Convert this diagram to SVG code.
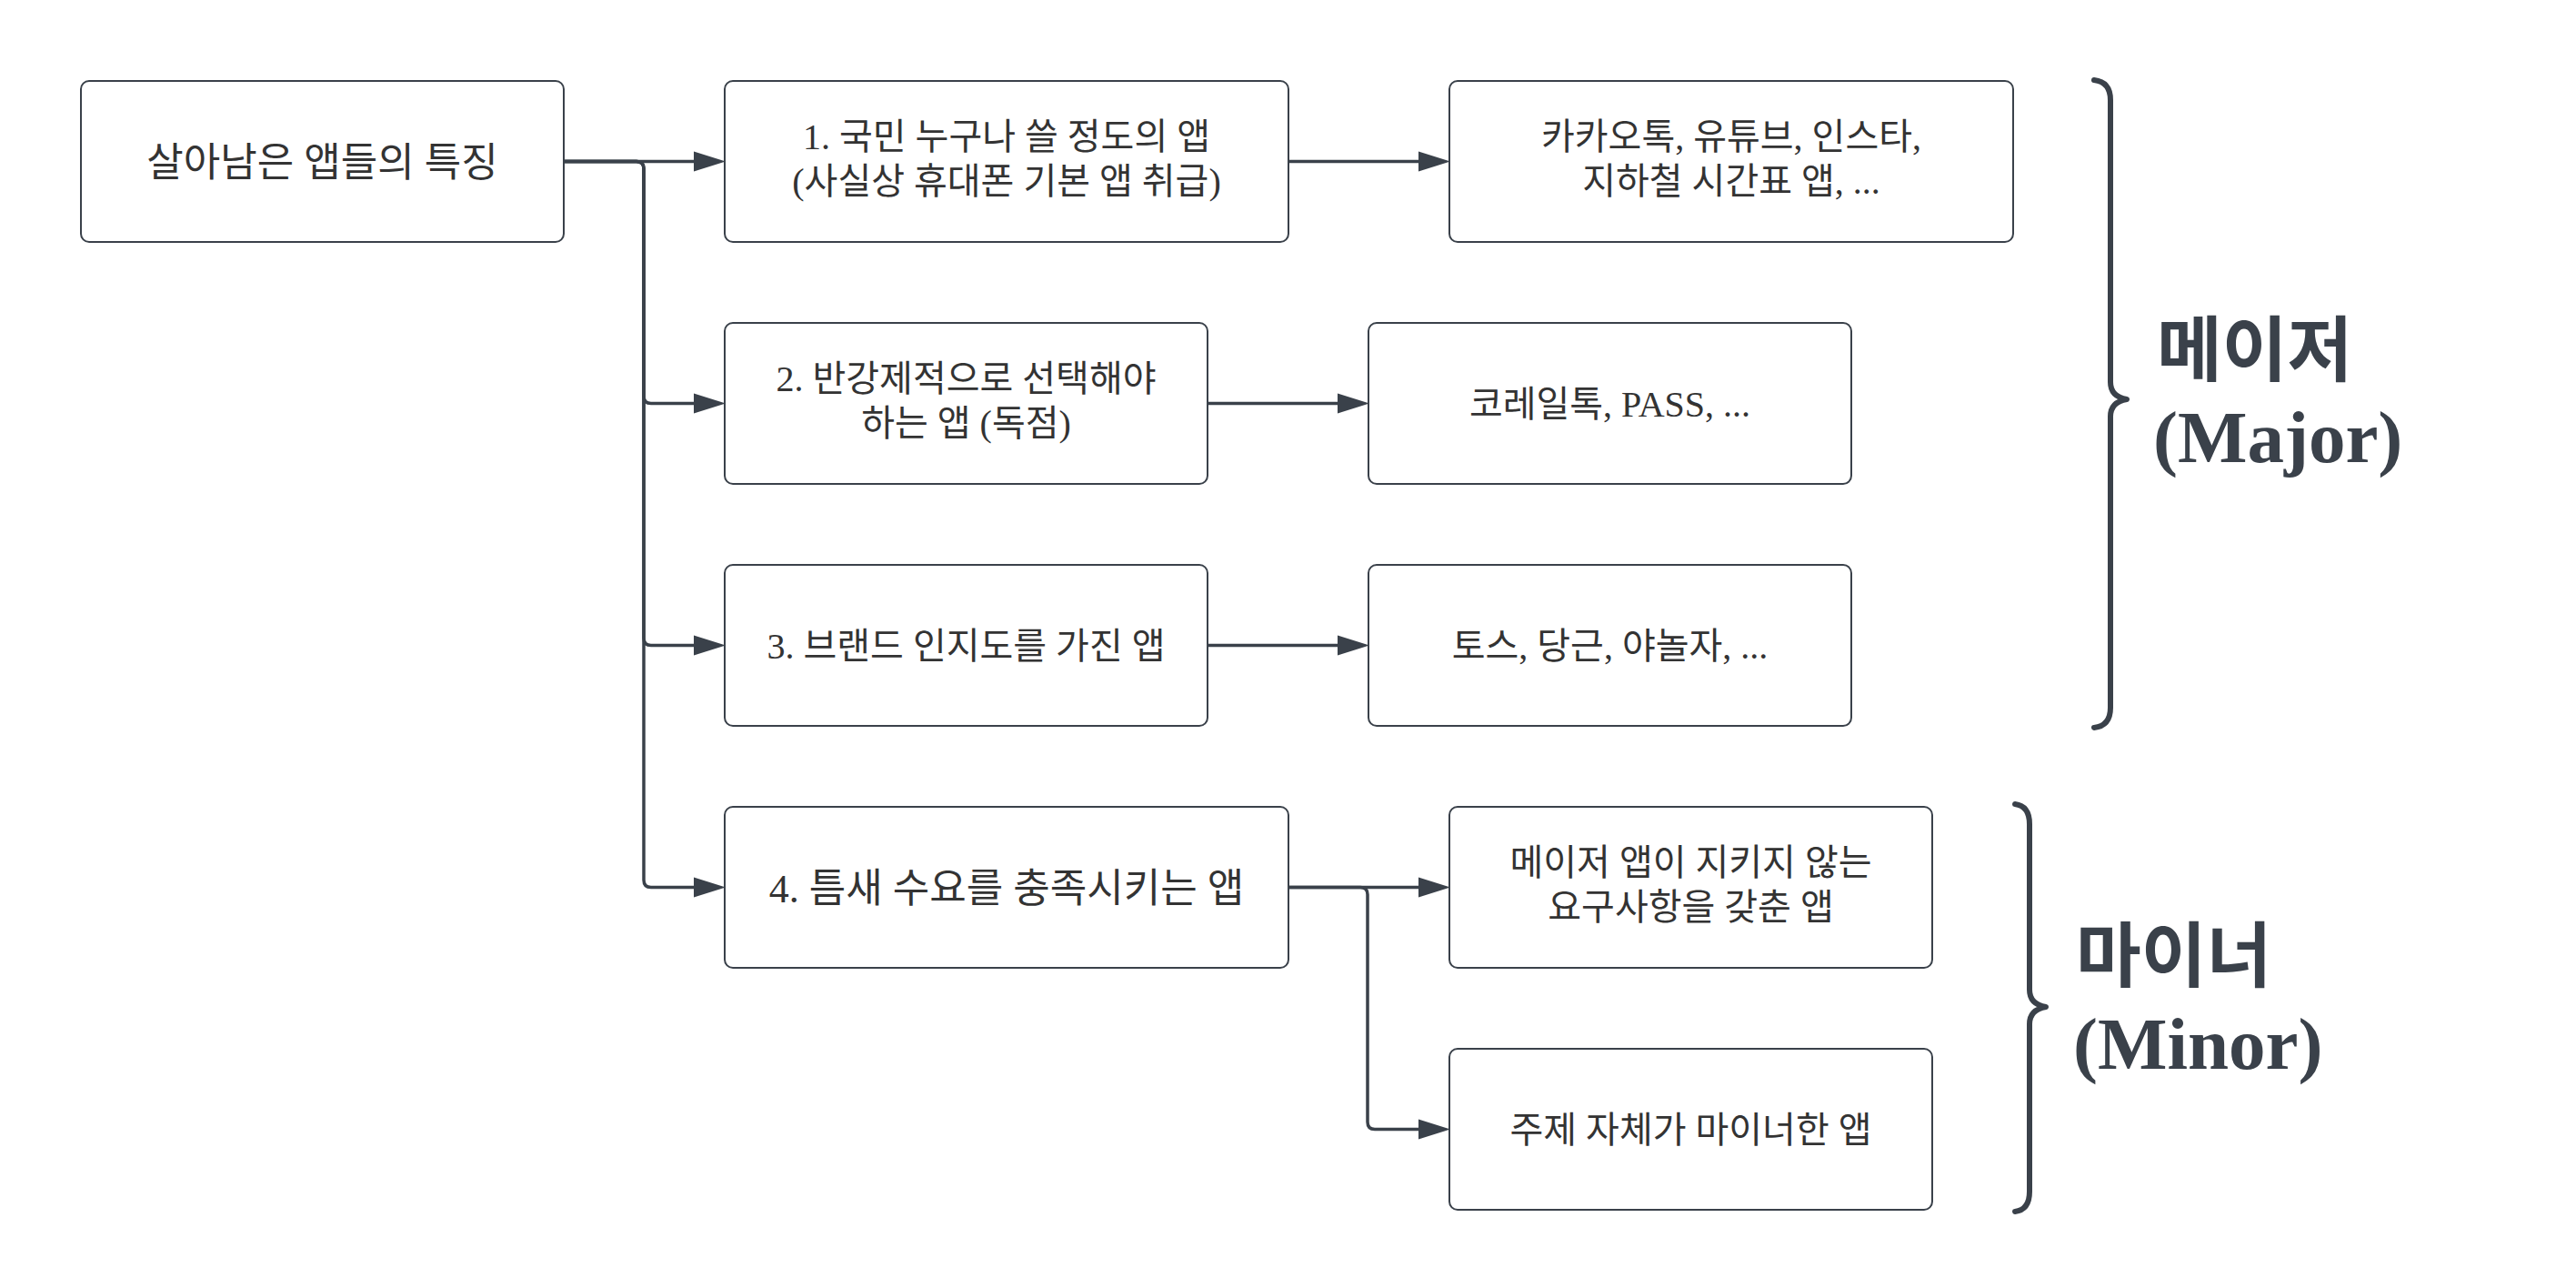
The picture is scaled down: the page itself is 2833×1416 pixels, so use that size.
<svg xmlns="http://www.w3.org/2000/svg" width="2833" height="1416" viewBox="0 0 2833 1416">
<defs>
<style>
.box{fill:#ffffff;stroke:#3a414a;stroke-width:2}
.t{font-family:'Liberation Serif','Noto Sans CJK KR',serif;font-size:40px;fill:#333333;text-anchor:middle}
.tl{font-size:44px}
.conn{fill:none;stroke:#3a414a;stroke-width:3.5}
.brace{fill:none;stroke:#3a414a;stroke-width:6;stroke-linecap:round;stroke-linejoin:round}
.big{font-family:'Liberation Serif','Noto Sans CJK KR',serif;font-size:81px;font-weight:bold;fill:#3a414a}
.bigk{font-size:78px}
</style>
<marker id="arr" viewBox="0 0 35 22" refX="0" refY="11" markerWidth="35" markerHeight="22" markerUnits="userSpaceOnUse" orient="auto" overflow="visible">
<path d="M0,0 L35,11 L0,22 Z" fill="#3a414a"/>
</marker>
</defs>
<rect width="2833" height="1416" fill="#ffffff"/>
<g id="connectors">
<path class="conn" marker-end="url(#arr)" d="M620,177.5 L763,177.5"/>
<path class="conn" marker-end="url(#arr)" d="M620,177.5 L700,177.5 Q708,177.5 708,185.5 L708,435.5 Q708,443.5 716,443.5 L763,443.5"/>
<path class="conn" marker-end="url(#arr)" d="M620,177.5 L700,177.5 Q708,177.5 708,185.5 L708,701.5 Q708,709.5 716,709.5 L763,709.5"/>
<path class="conn" marker-end="url(#arr)" d="M620,177.5 L700,177.5 Q708,177.5 708,185.5 L708,967.5 Q708,975.5 716,975.5 L763,975.5"/>
<path class="conn" marker-end="url(#arr)" d="M1417,177.5 L1560,177.5"/>
<path class="conn" marker-end="url(#arr)" d="M1328,443.5 L1471,443.5"/>
<path class="conn" marker-end="url(#arr)" d="M1328,709.5 L1471,709.5"/>
<path class="conn" marker-end="url(#arr)" d="M1417,975.5 L1560,975.5"/>
<path class="conn" marker-end="url(#arr)" d="M1417,975.5 L1496,975.5 Q1504,975.5 1504,983.5 L1504,1233.5 Q1504,1241.5 1512,1241.5 L1560,1241.5"/>
</g>
<g id="root">
<rect class="box" x="89" y="89" width="531" height="177" rx="9"/>
<text class="t tl" x="354.5" y="193.5">살아남은 앱들의 특징</text>
</g>
<g id="n1">
<rect class="box" x="797" y="89" width="620" height="177" rx="9"/>
<text class="t" x="1107" y="164">1. 국민 누구나 쓸 정도의 앱</text>
<text class="t" x="1107" y="213">(사실상 휴대폰 기본 앱 취급)</text>
</g>
<g id="n1r">
<rect class="box" x="1594" y="89" width="620" height="177" rx="9"/>
<text class="t" x="1904" y="164">카카오톡, 유튜브, 인스타,</text>
<text class="t" x="1904" y="213">지하철 시간표 앱, ...</text>
</g>
<g id="n2">
<rect class="box" x="797" y="355" width="531" height="177" rx="9"/>
<text class="t" x="1062.5" y="430">2. 반강제적으로 선택해야</text>
<text class="t" x="1062.5" y="479">하는 앱 (독점)</text>
</g>
<g id="n2r">
<rect class="box" x="1505" y="355" width="531" height="177" rx="9"/>
<text class="t" x="1770.5" y="457.5">코레일톡, PASS, ...</text>
</g>
<g id="n3">
<rect class="box" x="797" y="621" width="531" height="177" rx="9"/>
<text class="t" x="1062.5" y="723.5">3. 브랜드 인지도를 가진 앱</text>
</g>
<g id="n3r">
<rect class="box" x="1505" y="621" width="531" height="177" rx="9"/>
<text class="t" x="1770.5" y="723.5">토스, 당근, 야놀자, ...</text>
</g>
<g id="n4">
<rect class="box" x="797" y="887" width="620" height="177" rx="9"/>
<text class="t tl" x="1107" y="991.5">4. 틈새 수요를 충족시키는 앱</text>
</g>
<g id="n4a">
<rect class="box" x="1594" y="887" width="531" height="177" rx="9"/>
<text class="t" x="1859.5" y="962">메이저 앱이 지키지 않는</text>
<text class="t" x="1859.5" y="1011">요구사항을 갖춘 앱</text>
</g>
<g id="n4b">
<rect class="box" x="1594" y="1153" width="531" height="177" rx="9"/>
<text class="t" x="1859.5" y="1255.5">주제 자체가 마이너한 앱</text>
</g>
<g id="major">
<path class="brace" d="M2303,88 Q2321,90 2321,110 L2321,420 Q2321,436 2339,439 Q2321,442 2321,458 L2321,778 Q2321,798 2303,800"/>
<text class="big bigk" x="2372" y="413">메이저</text>
<text class="big" x="2368" y="508">(Major)</text>
</g>
<g id="minor">
<path class="brace" d="M2216,884 Q2232,886 2232,906 L2232,1088 Q2232,1104 2250,1107 Q2232,1110 2232,1126 L2232,1310 Q2232,1330 2216,1332"/>
<text class="big bigk" x="2283" y="1079">마이너</text>
<text class="big" x="2280" y="1175">(Minor)</text>
</g>
</svg>
